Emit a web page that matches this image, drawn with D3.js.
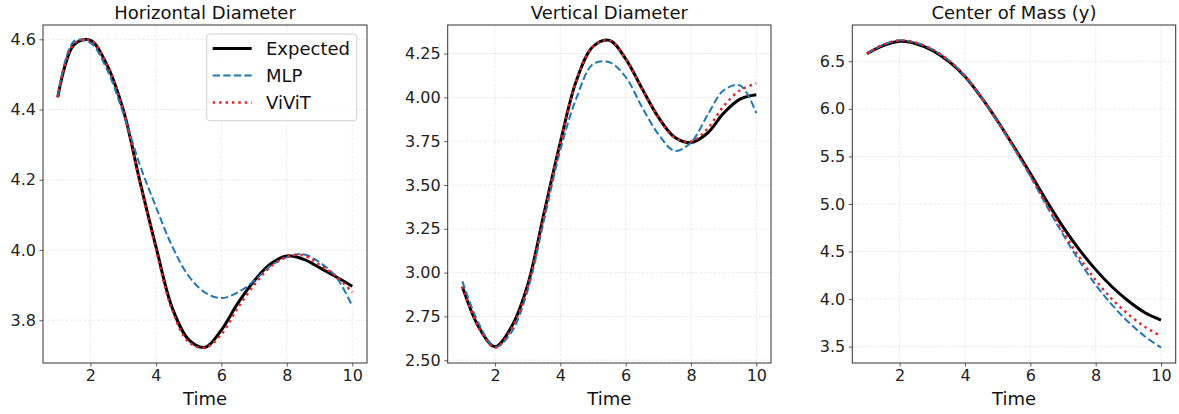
<!DOCTYPE html>
<html>
<head>
<meta charset="utf-8">
<script src="https://cdn.jsdelivr.net/npm/d3@7"></script>
<style>
  body { margin: 0; background: #fff; }
  svg { font-family: "DejaVu Sans", sans-serif; }
</style>
</head>
<body>
<svg id="chart" width="1179" height="414"></svg>
<script>
// time samples shared by every series
var times = [1, 1.5, 2, 2.5, 3, 3.5, 4, 4.5, 5, 5.5, 6, 6.5, 7, 7.5, 8, 8.5, 9, 9.5, 10];

// Horizontal Diameter
var hExpected = [4.435, 4.585, 4.597, 4.528, 4.400, 4.200, 4.010, 3.835, 3.745, 3.723, 3.772, 3.848, 3.912, 3.960, 3.983, 3.974, 3.950, 3.924, 3.897];
var hMLP      = [4.435, 4.595, 4.590, 4.515, 4.390, 4.245, 4.123, 4.010, 3.926, 3.879, 3.863, 3.879, 3.912, 3.955, 3.979, 3.988, 3.965, 3.924, 3.840];
var hViViT    = [4.435, 4.588, 4.597, 4.530, 4.400, 4.195, 4.003, 3.828, 3.738, 3.722, 3.760, 3.835, 3.900, 3.952, 3.981, 3.985, 3.958, 3.926, 3.880];

// Vertical Diameter
var vExpected = [2.920, 2.690, 2.578, 2.690, 2.930, 3.340, 3.745, 4.100, 4.290, 4.325, 4.220, 4.050, 3.887, 3.772, 3.742, 3.795, 3.910, 3.990, 4.015];
var vMLP      = [2.950, 2.710, 2.575, 2.660, 2.900, 3.300, 3.700, 4.000, 4.190, 4.200, 4.116, 3.944, 3.790, 3.695, 3.743, 3.896, 4.040, 4.068, 3.910];
var vViViT    = [2.920, 2.685, 2.572, 2.680, 2.920, 3.330, 3.740, 4.100, 4.290, 4.325, 4.220, 4.050, 3.885, 3.770, 3.748, 3.820, 3.950, 4.040, 4.080];

// Center of Mass (y)
var cExpected = [6.58, 6.665, 6.71, 6.685, 6.615, 6.50, 6.34, 6.12, 5.87, 5.60, 5.32, 5.03, 4.76, 4.52, 4.31, 4.13, 3.98, 3.86, 3.78];
var cMLP      = [6.58, 6.675, 6.72, 6.695, 6.625, 6.51, 6.345, 6.12, 5.865, 5.585, 5.29, 4.98, 4.68, 4.40, 4.15, 3.94, 3.76, 3.61, 3.49];
var cViViT    = [6.58, 6.675, 6.72, 6.695, 6.625, 6.51, 6.345, 6.12, 5.868, 5.59, 5.30, 5.00, 4.71, 4.44, 4.20, 4.00, 3.84, 3.71, 3.61];

var titles = ["Horizontal Diameter", "Vertical Diameter", "Center of Mass (y)"];
var xTicks = [2, 4, 6, 8, 10];
var yTicks = [
  [3.8, 4.0, 4.2, 4.4, 4.6],
  [2.50, 2.75, 3.00, 3.25, 3.50, 3.75, 4.00, 4.25],
  [3.5, 4.0, 4.5, 5.0, 5.5, 6.0, 6.5]
];
var yFormats = [".1f", ".2f", ".1f"];
var seriesNames = ["Expected", "MLP", "ViViT"];

var panelData = [
  [hExpected, hMLP, hViViT],
  [vExpected, vMLP, vViViT],
  [cExpected, cMLP, cViViT]
];

// line styles, matplotlib-ish
var styles = [
  { color: "#000000", width: 3, dash: null },
  { color: "#1f77b4", width: 2, dash: "7.4,3.2" },
  { color: "#e8242a", width: 2.5, dash: "2.5,3.9" }
];

// axes boxes in pixels
var boxes = [
  { left: 43, right: 367 },
  { left: 447.7, right: 771 },
  { left: 852.3, right: 1175.7 }
];
var plotTop = 25, plotBottom = 363;

var svg = d3.select("#chart");

function pad(ext) {
  var m = (ext[1] - ext[0]) * 0.05;
  return [ext[0] - m, ext[1] + m];
}

for (var p = 0; p < 3; p++) {
  var box = boxes[p];
  var all = [].concat(panelData[p][0], panelData[p][1], panelData[p][2]);

  var x = d3.scaleLinear().domain(pad([1, 10])).range([box.left, box.right]);
  var y = d3.scaleLinear().domain(pad(d3.extent(all))).range([plotBottom, plotTop]);

  var g = svg.append("g");

  // grid
  g.selectAll(".gx").data(xTicks).enter().append("line")
    .attr("x1", function(d) { return x(d); })
    .attr("x2", function(d) { return x(d); })
    .attr("y1", plotTop).attr("y2", plotBottom)
    .attr("stroke", "#b0b0b0").attr("stroke-opacity", 0.3)
    .attr("stroke-width", 0.8).attr("stroke-dasharray", "3,1.5");
  g.selectAll(".gy").data(yTicks[p]).enter().append("line")
    .attr("y1", function(d) { return y(d); })
    .attr("y2", function(d) { return y(d); })
    .attr("x1", box.left).attr("x2", box.right)
    .attr("stroke", "#b0b0b0").attr("stroke-opacity", 0.3)
    .attr("stroke-width", 0.8).attr("stroke-dasharray", "3,1.5");

  // lines
  var line = d3.line()
    .x(function(d) { return x(d[0]); })
    .y(function(d) { return y(d[1]); })
    .curve(d3.curveCatmullRom.alpha(0.5));

  for (var s = 0; s < 3; s++) {
    var pts = times.map(function(t, i) { return [t, panelData[p][s][i]]; });
    g.append("path")
      .datum(pts)
      .attr("d", line)
      .attr("fill", "none")
      .attr("stroke", styles[s].color)
      .attr("stroke-width", styles[s].width)
      .attr("stroke-dasharray", styles[s].dash)
      .attr("stroke-linecap", "butt");
  }

  // axes
  var xAxis = d3.axisBottom(x).tickValues(xTicks).tickSize(3.5).tickPadding(3.5).tickFormat(d3.format("d"));
  var yAxis = d3.axisLeft(y).tickValues(yTicks[p]).tickSize(3.5).tickPadding(3.5).tickFormat(d3.format(yFormats[p]));

  var gx = g.append("g").attr("transform", "translate(0," + plotBottom + ")").call(xAxis);
  var gy = g.append("g").attr("transform", "translate(" + box.left + ",0)").call(yAxis);
  [gx, gy].forEach(function(a) {
    a.select(".domain").remove();
    a.selectAll(".tick line").attr("stroke", "#333").attr("stroke-width", 0.8);
    a.selectAll(".tick text").attr("fill", "#222").style("font-size", "16px")
      .style("font-family", "DejaVu Sans, sans-serif");
  });

  // frame
  g.append("rect")
    .attr("x", box.left).attr("y", plotTop)
    .attr("width", box.right - box.left).attr("height", plotBottom - plotTop)
    .attr("fill", "none").attr("stroke", "#333").attr("stroke-width", 1);

  // title and x label
  g.append("text")
    .attr("x", (box.left + box.right) / 2).attr("y", 19)
    .attr("text-anchor", "middle")
    .style("font-size", "18px").attr("fill", "#111")
    .text(titles[p]);
  g.append("text")
    .attr("x", (box.left + box.right) / 2).attr("y", 405)
    .attr("text-anchor", "middle")
    .style("font-size", "18px").attr("fill", "#111")
    .text("Time");
}

// legend in first panel
var leg = svg.append("g");
leg.append("rect")
  .attr("x", 206.7).attr("y", 34).attr("width", 150).attr("height", 86.7)
  .attr("rx", 3).attr("fill", "#fff").attr("fill-opacity", 0.8)
  .attr("stroke", "#d0d0d0").attr("stroke-width", 1);
seriesNames.forEach(function(name, i) {
  var cy = 48.5 + i * 27;
  leg.append("line")
    .attr("x1", 212.7).attr("x2", 251.7).attr("y1", cy).attr("y2", cy)
    .attr("stroke", styles[i].color).attr("stroke-width", styles[i].width)
    .attr("stroke-dasharray", styles[i].dash);
  leg.append("text")
    .attr("x", 266).attr("y", cy + 6.5)
    .style("font-size", "18px").attr("fill", "#111")
    .text(name);
});
</script>
</body>
</html>
